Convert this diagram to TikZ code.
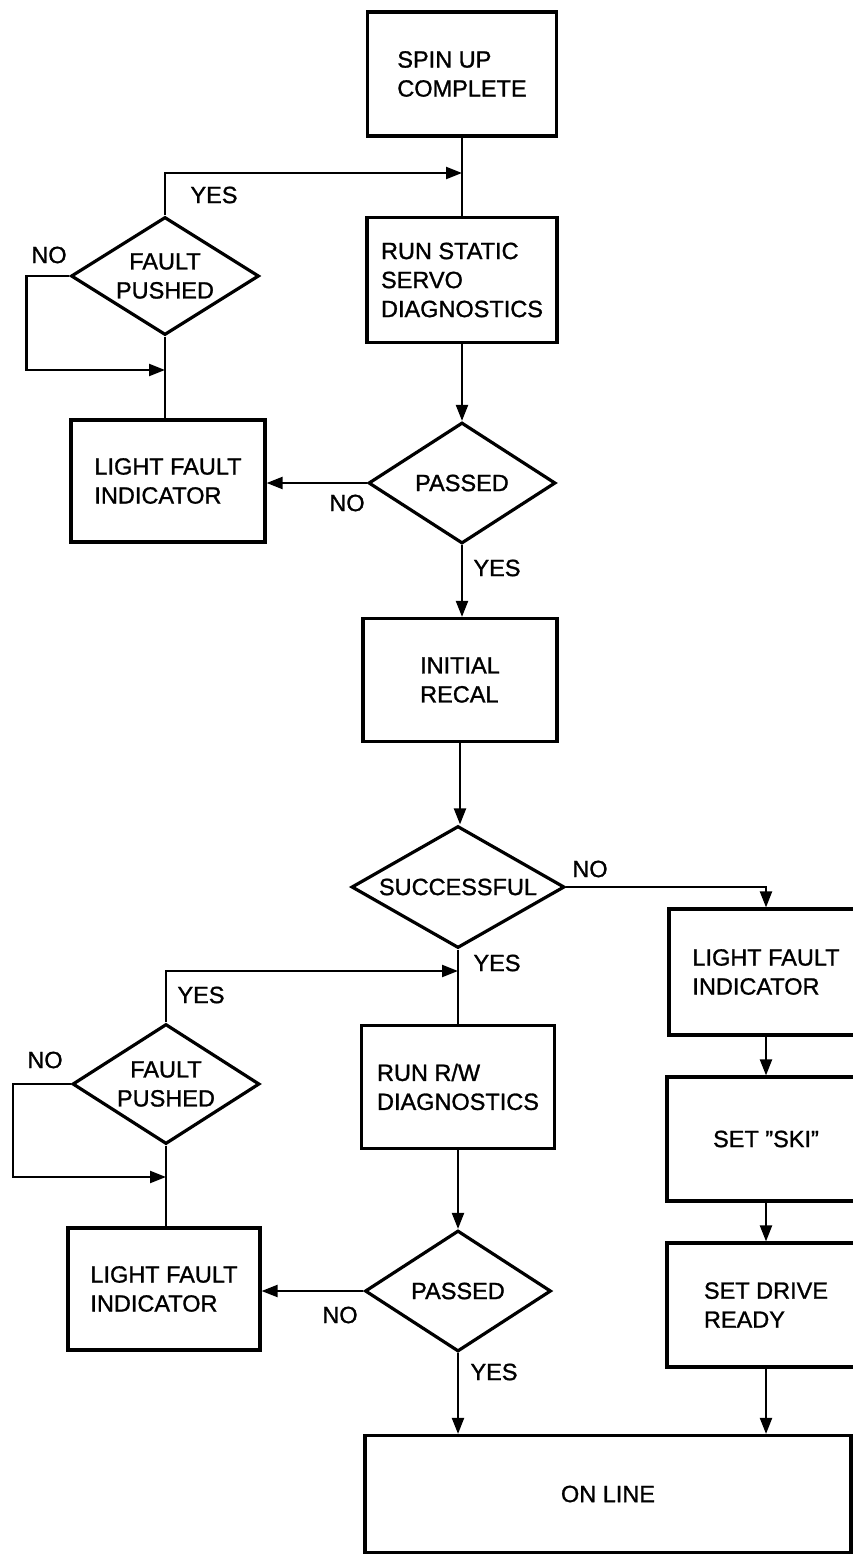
\documentclass[tikz,border=0pt]{standalone}
\usepackage{fontspec}
\setmainfont{Liberation Sans}[FakeBold=1.2]
\usetikzlibrary{calc, positioning, arrows.meta, shapes}

\newcommand{\flowfont}{\fontsize{23.5}{29}\selectfont}

\tikzset{
    flowbox/.style={draw, rectangle, line width=3.2pt, inner sep=0pt, align=left, font=\flowfont},
    decision/.style={draw, diamond, aspect=1.6, line width=3.2pt, inner sep=0pt, align=center, font=\flowfont},
    answer/.style={inner sep=0pt, font=\flowfont},
    link/.style={line width=2.2pt},
    flow/.style={line width=2.2pt, ->},
}

\begin{document}
\begin{tikzpicture}[x=1pt, y=-1pt, >={Triangle[length=16pt,width=12pt]}]
    \useasboundingbox (0,0) rectangle (852,1556);

    % Static servo part
    \node[flowbox, minimum width=189pt, minimum height=124pt] (spinup) at (462,74) {SPIN UP\\COMPLETE};
    \node[flowbox, minimum width=190pt, minimum height=125pt] (staticservo) at (462,280) {RUN STATIC\\SERVO\\DIAGNOSTICS};
    \node[decision, minimum width=188pt, minimum height=118pt] (pushedA) at (165,276) {FAULT\\PUSHED};
    \node[flowbox, minimum width=194pt, minimum height=122pt] (lightA) at (168,481) {LIGHT FAULT\\INDICATOR};
    \node[decision, minimum width=187pt, minimum height=121pt] (passedA) at (462,483) {PASSED};
    \node[flowbox, minimum width=194pt, minimum height=123pt] (recal) at (460,680) {INITIAL\\RECAL};
    \node[decision, minimum width=213pt, minimum height=122pt] (successful) at (458,887) {SUCCESSFUL};

    % Right column
    \node[flowbox, minimum width=194pt, minimum height=126pt] (lightC) at (766,972) {LIGHT FAULT\\INDICATOR};
    \node[flowbox, minimum width=198pt, minimum height=124pt] (ski) at (766,1139) {SET ''SKI''};
    \node[flowbox, minimum width=198pt, minimum height=124pt] (ready) at (766,1305) {SET DRIVE\\READY};

    % Read/write part
    \node[flowbox, minimum width=193pt, minimum height=123pt] (rwdiag) at (458,1087) {RUN R/W\\DIAGNOSTICS};
    \node[decision, minimum width=187pt, minimum height=120pt] (pushedB) at (166,1084) {FAULT\\PUSHED};
    \node[flowbox, minimum width=192pt, minimum height=122pt] (lightB) at (164,1289) {LIGHT FAULT\\INDICATOR};
    \node[decision, minimum width=186pt, minimum height=121pt] (passedB) at (458,1291) {PASSED};
    \node[flowbox, minimum width=486pt, minimum height=117pt] (online) at (608,1494) {ON LINE};

    % Answers
    \node[answer] (yesA) at (214,195) {YES};
    \node[answer] (noA) at (49,255) {NO};
    \node[answer] (noB) at (347,503) {NO};
    \node[answer] (yesB) at (497,568) {YES};
    \node[answer] (noC) at (590,869) {NO};
    \node[answer] (yesC) at (497,963) {YES};
    \node[answer] (yesD) at (201,995) {YES};
    \node[answer] (noD) at (45,1060) {NO};
    \node[answer] (noE) at (340,1315) {NO};
    \node[answer] (yesE) at (494,1372) {YES};

    % Join points
    \coordinate (joinA) at (462,173);
    \coordinate (joinB) at (458,971);
    \coordinate (loopA) at (pushedA.south |- 0,370);
    \coordinate (loopB) at (pushedB.south |- 0,1177);

    % Connectors, upper half
    \draw[link] (spinup.south) -- (staticservo.north);
    \draw[flow] (pushedA.north) |- (joinA);
    \draw[link] (pushedA.south) -- (pushedA.south |- lightA.north);
    \draw[flow] (pushedA.west) -- ++(-43,0) |- (loopA);
    \draw[flow] (staticservo.south) -- (passedA.north);
    \draw[flow] (passedA.west) -- (passedA.west -| lightA.east);
    \draw[flow] (passedA.south) -- (passedA.south |- recal.north);
    \draw[flow] (recal.south) -- (recal.south |- successful.north);

    % Connectors, lower half
    \draw[flow] (successful.east) -| (lightC.north);
    \draw[flow] (lightC.south) -- (ski.north);
    \draw[flow] (ski.south) -- (ready.north);
    \draw[flow] (ready.south) -- (ready.south |- online.north);
    \draw[link] (successful.south) -- (rwdiag.north);
    \draw[flow] (pushedB.north) |- (joinB);
    \draw[link] (pushedB.south) -- (pushedB.south |- lightB.north);
    \draw[flow] (pushedB.west) -- ++(-58,0) |- (loopB);
    \draw[flow] (rwdiag.south) -- (passedB.north);
    \draw[flow] (passedB.west) -- (passedB.west -| lightB.east);
    \draw[flow] (passedB.south) -- (passedB.south |- online.north);
\end{tikzpicture}
\end{document}
